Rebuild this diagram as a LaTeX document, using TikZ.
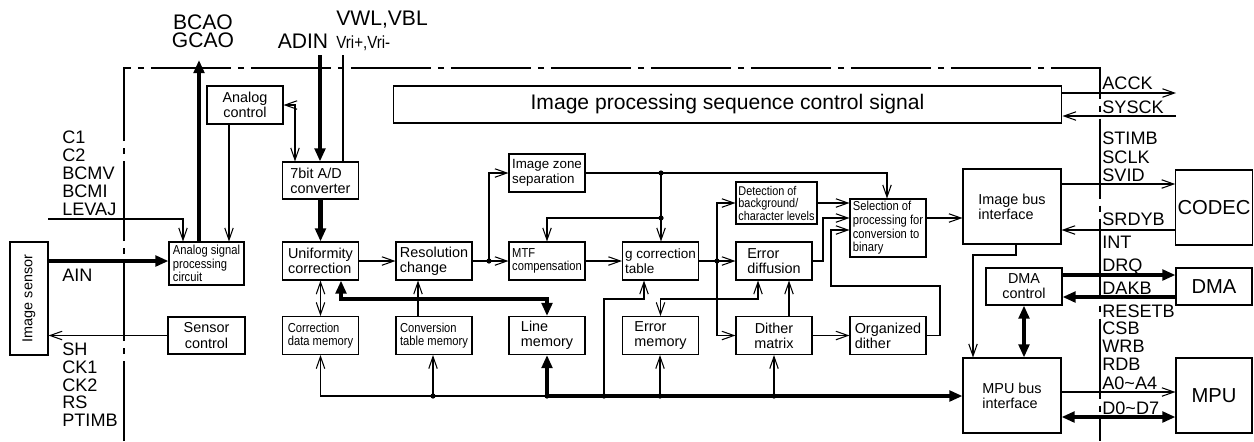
\documentclass[tikz,border=0pt]{standalone}
\usepackage{fontspec}
\setmainfont{Liberation Sans}
\newfontfamily\narrowfont[FakeStretch=0.86]{Liberation Sans}
\usetikzlibrary{arrows.meta}

\newcommand\boxfont{\fontsize{8.2}{8.6}\selectfont}
\newcommand\slimfont{\narrowfont\fontsize{7.4}{7.8}\selectfont}
\newcommand\sigfont{\fontsize{10.3}{10.3}\selectfont}
\newcommand\bigfont{\fontsize{12}{9.8}\selectfont}

\tikzset{
    block/.style = { draw, line width=0.6pt, minimum width=1.52cm, minimum height=0.76cm,
                     inner sep=1pt, align=left, font=\boxfont },
    slim/.style = { font=\slimfont },
    sig/.style = { anchor=west, inner sep=0pt, font=\sigfont, text height=7.4pt, text depth=0pt },
    toplabel/.style = { inner sep=0pt, align=center, font=\bigfont },
    wire/.style = { line width=0.6pt },
    ar/.style = { wire, -{Straight Barb[length=2.4mm, width=1.7mm]} },
    arboth/.style = { wire, {Straight Barb[length=2.4mm, width=1.7mm]}-{Straight Barb[length=2.4mm, width=1.7mm]} },
    bus/.style = { line width=2.4pt, -{Triangle[length=2.6mm, width=2.1mm]} },
    busboth/.style = { line width=2.4pt, {Triangle[length=2.6mm, width=2.1mm]}-{Triangle[length=2.6mm, width=2.1mm]} },
    frame/.style = { line width=0.6pt, dash pattern=on 1.6cm off 0.14cm on 0.12cm off 0.14cm }
}

\begin{document}
\begin{tikzpicture}[x=0.02cm, y=-0.02cm]
    \useasboundingbox (0,0) rectangle (1254,441);

    %%%
    %%% Chip boundary
    %%%
    \draw[frame] (124,441) -- (124,68) -- (1100,68) -- (1100,441);

    %%%
    %%% Analog front end
    %%%
    \node[block, align=center, minimum width=0.76cm, minimum height=2.26cm] (sensor) at (29,298.5) {\rotatebox{90}{Image sensor}};
    \node[block, slim, minimum width=1.5cm, minimum height=0.86cm] (asp) at (206.5,263.5) {Analog signal\\processing\\circuit};
    \node[block, align=center, minimum width=1.54cm, minimum height=0.74cm] (senctl) at (206.5,335.5) {Sensor\\control};
    \node[block, align=center] (actl) at (245,105) {Analog\\control};
    \node[block, minimum height=0.74cm] (adc) at (320.5,180.5) {7bit A/D\\converter};
    % Pins at the top
    \node[toplabel, text height=8.6pt, text depth=0pt] (bcao) at (203,22) {BCAO};
    \node[toplabel, text height=8.6pt, text depth=0pt] (gcao) at (203,40) {GCAO};
    \node[toplabel] (adin) at (303,41) {ADIN};
    \node[toplabel, anchor=west] (vwl) at (336,20) {VWL,VBL};
    \node[sig, font=\narrowfont\fontsize{10}{10}\selectfont] (vri) at (336,42) {Vri+,Vri-};
    \coordinate (bcaotip) at (199,60);
    \coordinate (adintop) at (320,55);
    \coordinate (vwltop)  at (343,55);
    % Pins at the left
    \foreach \sig/\yy in {C1/137, C2/155, BCMV/173, BCMI/191, LEVAJ/209}
      { \node[sig] (in-\sig) at (62,\yy) {\sig}; }
    \foreach \sig/\yy in {SH/349, CK1/367, CK2/385, RS/402, PTIMB/420}
      { \node[sig] (out-\sig) at (62,\yy) {\sig}; }
    \node[sig] (ain) at (62,275) {AIN};
    \coordinate (levaj) at (48,219);

    %%%
    %%% Image processing
    %%%
    \node[block, font=\bigfont, align=center, minimum width=13.38cm, minimum height=0.74cm] (ipsc) at (727.5,104.5) {Image processing sequence control signal};
    \node[block] (unif) at (320.5,261) {Uniformity\\correction};
    \node[block] (reso) at (434,261) {Resolution\\change};
    \node[block, slim] (mtf) at (547,261) {MTF\\compensation};
    \node[block, font=\fontsize{7.7}{8.6}\selectfont] (gam) at (660.5,261) {g correction\\table};
    \node[block] (errdif) at (774,261) {Error\\diffusion};
    \node[block, slim] (cdm) at (320.5,335.5) {Correction\\data memory};
    \node[block, slim] (ctm) at (434,335.5) {Conversion\\table memory};
    \node[block] (lmem) at (547,335.5) {Line\\memory};
    \node[block] (emem) at (660.5,335.5) {Error\\memory};
    \node[block, align=center] (dith) at (774,335.5) {Dither\\matrix};
    \node[block] (odith) at (888,335.5) {Organized\\dither};
    \node[block, font=\fontsize{7.6}{8.4}\selectfont] (izs) at (547,173) {Image zone\\separation};
    \node[block, font=\narrowfont\fontsize{7.2}{7.1}\selectfont, minimum width=1.62cm, minimum height=0.84cm, inner sep=0.5pt] (det) at (776.5,203) {Detection of\\background/\\character levels};
    \node[block, slim, minimum height=1.16cm] (sel) at (888,228) {Selection of\\processing for\\conversion to\\binary};
    % Junctions
    \coordinate (j1) at (489,261);
    \coordinate (j2) at (661,173);
    \coordinate (j3) at (661,218);
    \coordinate (j4) at (717,261);
    \coordinate (b1) at (433,396);
    \coordinate (b2) at (547,396);
    \coordinate (b3) at (604,396);
    \coordinate (b4) at (660,396);
    \coordinate (b5) at (774,396);

    %%%
    %%% Bus interfaces and outside devices
    %%%
    \node[block, align=left, minimum width=1.96cm, minimum height=1.5cm] (ibus) at (1012,206.5) {Image bus\\interface};
    \node[block, align=center, minimum height=0.74cm] (dmactl) at (1024,286.5) {DMA\\control};
    \node[block, align=left, minimum width=1.96cm, minimum height=1.5cm] (mbus) at (1012,395.5) {MPU bus\\interface};
    \node[block, font=\fontsize{11.5}{12}\selectfont, minimum height=1.5cm] (codec) at (1214,207.5) {CODEC};
    \node[block, font=\fontsize{11.5}{12}\selectfont, minimum height=0.74cm] (dma) at (1214,286.5) {DMA};
    \node[block, font=\fontsize{11.5}{12}\selectfont, minimum height=1.5cm] (mpu) at (1214,395.5) {MPU};
    % Pins at the right
    \foreach \sig/\yy [count=\i] in {ACCK/83, SYSCK/107, STIMB/138, SCLK/157, SVID/175, SRDYB/219, INT/242, DRQ/265, DAKB/288, RESETB/311, CSB/328, WRB/346, RDB/364, A0\textasciitilde A4/383, D0\textasciitilde D7/408}
      { \node[sig] (pin\i) at (1102,\yy) {\sig}; }
    \coordinate (acck)  at (1176,93);
    \coordinate (sysck) at (1176,116);

    %%%
    %%% Connections
    %%%
    % Analog front end
    \draw[bus] (sensor.east |- 0,261) -- (asp.west |- 0,261);
    \draw[ar] (senctl.west) -- (senctl.west -| sensor.east);
    \draw[ar] (levaj) -| (183,0 |- asp.north);
    \draw[bus] (199,0 |- asp.north) -- (bcaotip);
    \draw[ar] (229,0 |- actl.south) -- (229,0 |- asp.north);
    \draw[arboth] (actl.east) -| (295,0 |- adc.north);
    \draw[bus] (adintop) -- (adintop |- adc.north);
    \draw[wire] (vwltop) -- (vwltop |- adc.north);
    \draw[bus] (adc.south) -- (unif.north);
    % Main chain
    \draw[ar] (unif.east) -- (reso.west);
    \draw[ar] (reso.east) -- (mtf.west);
    \draw[ar] (j1) |- (izs.west);
    \draw[ar] (mtf.east) -- (gam.west);
    \draw[ar] (gam.east) -- (errdif.west);
    \draw[ar] (izs.east) -| (887,0 |- sel.north);
    \draw[ar] (j2) -- (j2 |- gam.north);
    \draw[ar] (j3) -| (mtf.north);
    \draw[ar] (j4) |- (det.west);
    \draw[ar] (j4) |- (dith.west);
    % Memories
    \draw[arboth] (unif.south) -- (cdm.north);
    \draw[ar] (418,0 |- ctm.north) -- (418,0 |- reso.south);
    \draw[busboth] (341,0 |- unif.south) -- (341,299) -| (lmem.north);
    \draw[arboth] (emem.north) |- (758,299) -- (758,0 |- errdif.south);
    \draw[ar] (789,0 |- dith.north) -- (789,0 |- errdif.south);
    \draw[ar] (dith.east) -- (odith.west);
    % Binarisation
    \draw[ar] (det.east) -- (sel.west |- det.east);
    \draw[ar] (errdif.east) -| (823,218) -- (sel.west |- 0,218);
    \draw[ar] (odith.east) -| (940,286) -| (831,230) -- (sel.west |- 0,230);
    \draw[ar] (sel.east |- 0,218) -- (ibus.west |- 0,218);
    % Internal bus
    \draw[ar] (b2) -| (cdm.south);
    \draw[ar] (b1) -- (b1 |- ctm.south);
    \draw[bus] (b2) -- (lmem.south);
    \draw[bus] (b2) -- (b2 -| mbus.west);
    \draw[ar] (b3) -- (604,299) -| (644,0 |- gam.south);
    \draw[ar] (b4) -- (b4 |- emem.south);
    \draw[ar] (b5) -- (b5 |- dith.south);
    \foreach \j in {j1, j2, j3, j4, b1, b2, b3, b4, b5}
      { \fill (\j) circle[radius=2.6]; }
    % Outside
    \draw[ar] (ipsc.east |- acck) -- (acck);
    \draw[ar] (sysck) -- (sysck -| ipsc.east);
    \draw[ar] (ibus.east |- 0,184) -- (codec.west |- 0,184);
    \draw[ar] (codec.west |- 0,230) -- (ibus.east |- 0,230);
    \draw[ar] (1016,0 |- ibus.south) -- (1016,255) -| (973,0 |- mbus.north);
    \draw[busboth] (dmactl.south) -- (dmactl.south |- mbus.north);
    \draw[bus] (dmactl.east |- 0,275) -- (dma.west |- 0,275);
    \draw[bus] (dma.west |- 0,297) -- (dmactl.east |- 0,297);
    \draw[ar] (mbus.east |- 0,392) -- (mpu.west |- 0,392);
    \draw[busboth] (mbus.east |- 0,417) -- (mpu.west |- 0,417);
\end{tikzpicture}
\end{document}
